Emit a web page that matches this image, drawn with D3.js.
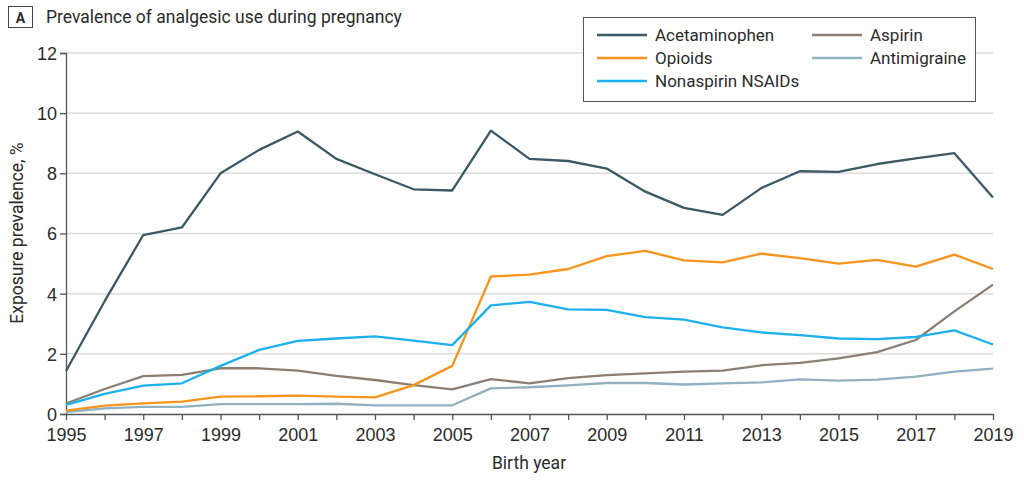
<!DOCTYPE html>
<html><head><meta charset="utf-8">
<script src="https://cdn.jsdelivr.net/npm/d3@7"></script>
<style>
body{margin:0;background:#fff;}
svg{font-family:Roboto,"Liberation Sans",sans-serif;}
</style></head>
<body><svg id="c" width="1024" height="480"></svg>
<script>
const years = d3.range(1995, 2020);
const acetaminophen = [1.43,3.75,5.95,6.2,8.0,8.78,9.39,8.48,7.97,7.47,7.43,9.42,8.48,8.41,8.16,7.39,6.85,6.62,7.51,8.07,8.05,8.31,8.50,8.67,7.20];
const opioids = [0.11,0.28,0.35,0.41,0.58,0.59,0.61,0.58,0.55,0.96,1.60,4.57,4.63,4.82,5.25,5.42,5.11,5.04,5.33,5.18,5.00,5.12,4.90,5.30,4.82];
const nsaids = [0.30,0.67,0.94,1.02,1.60,2.13,2.43,2.51,2.58,2.44,2.29,3.61,3.73,3.48,3.46,3.22,3.14,2.88,2.71,2.62,2.51,2.49,2.56,2.78,2.31];
const aspirin = [0.35,0.83,1.26,1.30,1.52,1.52,1.44,1.27,1.13,0.96,0.82,1.16,1.02,1.19,1.29,1.35,1.41,1.44,1.62,1.70,1.85,2.06,2.46,3.41,4.30];
const antimigraine = [0.06,0.19,0.24,0.24,0.33,0.33,0.33,0.34,0.29,0.29,0.29,0.85,0.89,0.95,1.03,1.03,0.98,1.02,1.05,1.15,1.11,1.14,1.24,1.41,1.51];
const seriesNames = ["Acetaminophen","Opioids","Nonaspirin NSAIDs","Aspirin","Antimigraine"];
const seriesColors = ["#3b5965","#f7941e","#1cb1ec","#8b7f73","#90b2c0"];
const seriesValues = [acetaminophen, opioids, nsaids, aspirin, antimigraine];
const yTicks = [0,2,4,6,8,10,12];
const xLabelYears = d3.range(1995, 2020, 2);

const svg = d3.select("#c");
const txt = "#2b2b2b";
const fs = 17;
const x = d3.scaleLinear().domain([1995,2019]).range([66,993]);
const y = d3.scaleLinear().domain([0,12]).range([414,53]);

// title
svg.append("rect").attr("x",8.5).attr("y",6.5).attr("width",24).attr("height",21).attr("fill","none").attr("stroke","#444").attr("stroke-width",1);
svg.append("text").attr("x",20.5).attr("y",22.5).attr("text-anchor","middle").attr("font-weight","bold").attr("font-size",14).attr("fill",txt).text("A");
svg.append("text").attr("x",46).attr("y",23).attr("font-size",17.5).attr("fill",txt).text("Prevalence of analgesic use during pregnancy");

// gridlines
svg.append("g").selectAll("line").data(yTicks.filter(d=>d>0)).join("line")
  .attr("x1",66).attr("x2",993).attr("y1",d=>y(d)).attr("y2",d=>y(d))
  .attr("stroke","#dcdcdc").attr("stroke-width",1.5);

// y axis
const yAxis = svg.append("g").attr("transform","translate(66,0)")
  .call(d3.axisLeft(y).tickValues(yTicks).tickSize(6).tickPadding(3));
yAxis.select(".domain").attr("stroke","#555").attr("stroke-width",1.3);
yAxis.selectAll(".tick line").attr("stroke","#555").attr("stroke-width",1.3);
yAxis.selectAll("text").attr("font-size",fs+1).attr("fill",txt).attr("font-family",null).attr("dy","0.36em");

// x axis
const xAxis = svg.append("g").attr("transform","translate(0,414)")
  .call(d3.axisBottom(x).tickValues(years).tickSize(6).tickSizeOuter(0).tickPadding(8)
    .tickFormat(d => xLabelYears.includes(d) ? String(d) : ""));
xAxis.select(".domain").attr("stroke","#555").attr("stroke-width",1.3);
xAxis.selectAll(".tick line").attr("stroke","#555").attr("stroke-width",1.3);
xAxis.selectAll("text").attr("font-size",fs+1).attr("fill",txt).attr("font-family",null);

// axis titles
svg.append("text").attr("x",529).attr("y",469).attr("text-anchor","middle").attr("font-size",fs+0.5).attr("fill",txt).text("Birth year");
svg.append("text").attr("transform","translate(23,233) rotate(-90)").attr("text-anchor","middle").attr("font-size",fs+0.5).attr("fill",txt).text("Exposure prevalence, %");

// lines
const line = d3.line().x((d,i)=>x(years[i])).y(d=>y(d));
const order = [4,3,1,2,0];
svg.append("g").selectAll("path").data(order).join("path")
  .attr("d", i => line(seriesValues[i]))
  .attr("fill","none").attr("stroke", i => seriesColors[i]).attr("stroke-width",2.3)
  .attr("stroke-linejoin","round");

// legend
const lg = svg.append("g");
lg.append("rect").attr("x",583.5).attr("y",17.5).attr("width",392).attr("height",84).attr("fill","#fff").attr("stroke","#555").attr("stroke-width",1);
const legendItems = [
  {i:0, col:0, row:0},{i:3, col:1, row:0},
  {i:1, col:0, row:1},{i:4, col:1, row:1},
  {i:2, col:0, row:2}
];
const colX = [597, 812], rowY = [35, 58, 81];
legendItems.forEach(it => {
  const g = lg.append("g").attr("transform",`translate(${colX[it.col]},${rowY[it.row]})`);
  g.append("line").attr("x1",0).attr("x2",50).attr("y1",0).attr("y2",0).attr("stroke",seriesColors[it.i]).attr("stroke-width",2.5);
  g.append("text").attr("x",58).attr("y",0).attr("dy","0.36em").attr("font-size",fs).attr("fill",txt).text(seriesNames[it.i]);
});
</script></body></html>
